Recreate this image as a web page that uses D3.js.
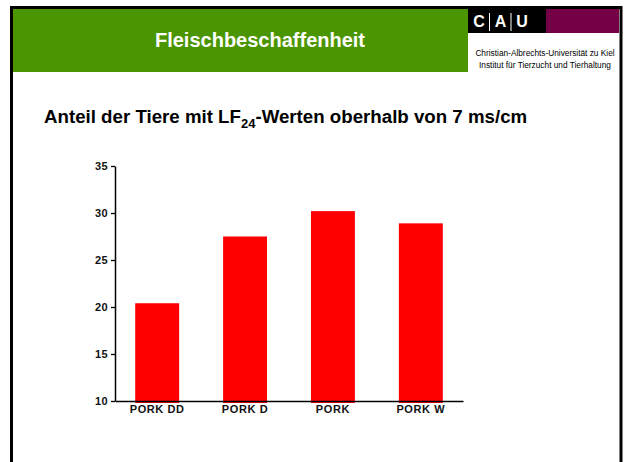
<!DOCTYPE html>
<html>
<head>
<meta charset="utf-8">
<script src="https://cdn.jsdelivr.net/npm/d3@7"></script>
<style>
  body { margin: 0; background: #fff; }
  svg { display: block; font-family: "Liberation Sans", Arial, sans-serif; }
</style>
</head>
<body>
<svg></svg>
<script>
// chart data
var categories = ["PORK DD", "PORK D", "PORK", "PORK W"];
var values = [20.4, 27.5, 30.2, 28.9];
var yTicks = [10, 15, 20, 25, 30, 35];

var width = 626;
var height = 462;

var svg = d3.select('svg')
	.attr('width', width)
	.attr('height', height);

// slide frame
svg.append('rect')
	.attr('x', 11.5).attr('y', 7.5)
	.attr('width', 609.5).attr('height', 470)
	.attr('fill', '#fff')
	.attr('stroke', '#000')
	.attr('stroke-width', 3);

// header band
svg.append('rect')
	.attr('x', 13).attr('y', 9)
	.attr('width', 455).attr('height', 63)
	.attr('fill', '#4b9500');

svg.append('text')
	.attr('x', 260).attr('y', 47)
	.attr('text-anchor', 'middle')
	.attr('fill', '#fff')
	.attr('font-size', 20)
	.attr('font-weight', 'bold')
	.text('Fleischbeschaffenheit');

// CAU logo
svg.append('rect')
	.attr('x', 468).attr('y', 9)
	.attr('width', 78).attr('height', 24)
	.attr('fill', '#000');
svg.append('rect')
	.attr('x', 546).attr('y', 9)
	.attr('width', 73).attr('height', 24)
	.attr('fill', '#760045');

var logo = ["C", "A", "U"];
svg.selectAll('.logo')
	.data(logo)
	.enter().append('text')
	.attr('class', 'logo')
	.attr('x', (d, i) => 479 + i * 21.5)
	.attr('y', 27)
	.attr('text-anchor', 'middle')
	.attr('fill', '#fff')
	.attr('font-size', 16)
	.attr('font-weight', 'bold')
	.text(d => d);
[489.5, 511].forEach(function(x){
	svg.append('line')
		.attr('x1', x).attr('x2', x)
		.attr('y1', 13).attr('y2', 31)
		.attr('stroke', '#fff')
		.attr('stroke-width', 1);
});

svg.append('text')
	.attr('x', 545).attr('y', 56)
	.attr('text-anchor', 'middle')
	.attr('font-size', 8.3)
	.attr('fill', '#000')
	.text('Christian-Albrechts-Universität zu Kiel');
svg.append('text')
	.attr('x', 545).attr('y', 68)
	.attr('text-anchor', 'middle')
	.attr('font-size', 8.3)
	.attr('fill', '#000')
	.text('Institut für Tierzucht und Tierhaltung');

// subtitle
var sub = svg.append('text')
	.attr('x', 44).attr('y', 123)
	.attr('font-size', 18.7)
	.attr('font-weight', 'bold');
sub.append('tspan').text('Anteil der Tiere mit LF');
sub.append('tspan').attr('font-size', 13).attr('dy', 5).text('24');
sub.append('tspan').attr('dy', -5).text('-Werten oberhalb von 7 ms/cm');

// chart
var xScale = d3.scaleBand()
	.domain(categories)
	.range([115, 463])
	.paddingInner(0.5)
	.paddingOuter(0.23);

var yScale = d3.scaleLinear()
	.domain([10, 35])
	.range([401, 166]);

svg.selectAll('.bar')
	.data(values)
	.enter().append('rect')
	.attr('class', 'bar')
	.attr('x', (d, i) => xScale(categories[i]))
	.attr('y', d => yScale(d))
	.attr('width', xScale.bandwidth())
	.attr('height', d => yScale(10) - yScale(d) + 2)
	.attr('fill', '#ff0000');

var yAxis = svg.append('g')
	.attr('transform', 'translate(115,0)')
	.call(d3.axisLeft(yScale).tickValues(yTicks).tickSize(4).tickPadding(3).tickSizeOuter(0));
yAxis.select('.domain').attr('stroke-width', 1.5);
yAxis.selectAll('.tick line').attr('stroke-width', 1.3);
yAxis.selectAll('text')
	.attr('font-family', '"Liberation Sans", Arial, sans-serif')
	.attr('font-size', 11)
	.attr('font-weight', 'bold')
	.attr('letter-spacing', 0.4)
	.attr('fill', '#111');

var xAxis = svg.append('g')
	.attr('transform', 'translate(0,401)')
	.call(d3.axisBottom(xScale).tickSize(0).tickPadding(4).tickSizeOuter(0));
xAxis.select('.domain').attr('stroke-width', 1.5);
xAxis.selectAll('text')
	.attr('font-family', '"Liberation Sans", Arial, sans-serif')
	.attr('font-size', 11)
	.attr('font-weight', 'bold')
	.attr('letter-spacing', 0.6)
	.attr('fill', '#111');
</script>
</body>
</html>
